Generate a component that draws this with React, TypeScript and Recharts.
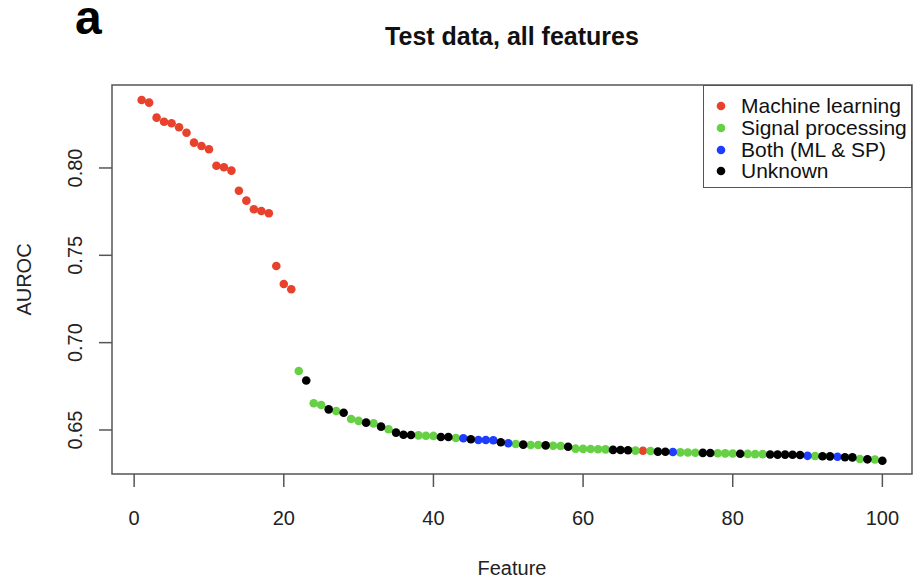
import React from "react";
import {
  Legend,
  ReferenceArea,
  Scatter,
  ScatterChart,
  XAxis,
  YAxis,
  Label,
} from "recharts";

// AUROC of each feature, sorted (feature 1..100)
const AUROC = [
  0.8389, 0.8374, 0.8288, 0.8265, 0.8256, 0.8233, 0.8202, 0.8145, 0.8126, 0.8107,
  0.8013, 0.8004, 0.7985, 0.787, 0.7813, 0.7764, 0.7754, 0.7741, 0.7439, 0.7336,
  0.7306, 0.6838, 0.6783, 0.6653, 0.6643, 0.6618, 0.6609, 0.6599, 0.6563, 0.6552,
  0.6542, 0.6538, 0.6519, 0.6504, 0.6485, 0.6473, 0.6471, 0.6469, 0.6467, 0.6466,
  0.646, 0.646, 0.6454, 0.6453, 0.6447, 0.6443, 0.6443, 0.6441, 0.643, 0.6424,
  0.642, 0.6416, 0.6414, 0.6414, 0.6412, 0.641, 0.6408, 0.6404, 0.6393, 0.6392,
  0.6391, 0.639, 0.6389, 0.6386, 0.6385, 0.6384, 0.6382, 0.6381, 0.638, 0.6376,
  0.6375, 0.6374, 0.6372, 0.6371, 0.637, 0.6369, 0.6368, 0.6367, 0.6366, 0.6365,
  0.6364, 0.6363, 0.6362, 0.6362, 0.636, 0.6359, 0.6359, 0.6358, 0.6357, 0.6352,
  0.6351, 0.635, 0.6349, 0.6347, 0.6344, 0.6343, 0.6334, 0.6332, 0.6331, 0.6324,
];

// M = machine learning, S = signal processing, B = both, U = unknown
const ORIGIN = [
  "M", "M", "M", "M", "M", "M", "M", "M", "M", "M",
  "M", "M", "M", "M", "M", "M", "M", "M", "M", "M",
  "M", "S", "U", "S", "S", "U", "S", "U", "S", "S",
  "U", "S", "U", "S", "U", "U", "U", "S", "S", "S",
  "U", "U", "S", "B", "U", "B", "B", "B", "U", "B",
  "S", "U", "S", "S", "U", "S", "S", "U", "S", "S",
  "S", "S", "S", "U", "U", "U", "S", "M", "S", "U",
  "U", "B", "S", "S", "S", "U", "U", "S", "S", "S",
  "U", "S", "S", "S", "U", "U", "U", "U", "U", "B",
  "S", "U", "U", "B", "U", "U", "S", "U", "S", "U",
];

const GROUPS = [
  { key: "M", name: "Machine learning", color: "#e8412c" },
  { key: "S", name: "Signal processing", color: "#66d144" },
  { key: "B", name: "Both (ML & SP)", color: "#1f3dff" },
  { key: "U", name: "Unknown", color: "#000000" },
];

const X_TICKS = [0, 20, 40, 60, 80, 100];
const Y_TICKS = [0.65, 0.7, 0.75, 0.8];
const X_DOMAIN = [-2.96, 103.96];
const Y_DOMAIN = [0.6248, 0.8475];

const FONT = '"Liberation Sans", Arial, Helvetica, sans-serif';
const AXIS_GREY = "#555";

const points = AUROC.map((v, i) => ({ x: i + 1, y: v, group: ORIGIN[i] }));

const Dot = (props: any) => (
  <circle cx={props.cx} cy={props.cy} r={4.3} fill={props.fill} />
);

const XTick = ({ x, y, payload }: any) => (
  <text
    x={x}
    y={y + 29}
    textAnchor="middle"
    dominantBaseline="central"
    fontSize={20}
    fontFamily={FONT}
    fill="#222"
  >
    {payload.value}
  </text>
);

const YTick = ({ x, y, payload }: any) => {
  const cx = x - 22;
  return (
    <text
      x={cx}
      y={y}
      transform={`rotate(-90, ${cx}, ${y})`}
      textAnchor="middle"
      dominantBaseline="central"
      fontSize={20}
      fontFamily={FONT}
      fill="#222"
    >
      {Number(payload.value).toFixed(2)}
    </text>
  );
};

const LegendBox = () => (
  <div
    style={{
      width: 209,
      height: 103,
      boxSizing: "border-box",
      border: `1.5px solid ${AXIS_GREY}`,
      background: "#fff",
      paddingTop: 9,
      fontFamily: FONT,
      fontSize: 21,
      color: "#111",
    }}
  >
    {GROUPS.map((g) => (
      <div
        key={g.key}
        style={{ display: "flex", alignItems: "center", height: 21.7, whiteSpace: "nowrap" }}
      >
        <svg width={37} height={21} style={{ flex: "none" }}>
          <circle cx={17} cy={11} r={4.3} fill={g.color} />
        </svg>
        <span style={{ lineHeight: "21px" }}>{g.name}</span>
      </div>
    ))}
  </div>
);

export default function App() {
  return (
    <div
      style={{
        position: "absolute",
        left: 0,
        top: 0,
        width: 914,
        height: 582,
        background: "#fff",
        fontFamily: FONT,
      }}
    >
      <div
        style={{
          position: "absolute",
          left: 75,
          top: 0,
          fontSize: 48,
          lineHeight: "36px",
          fontWeight: 700,
          color: "#000",
        }}
      >
        a
      </div>
      <div
        style={{
          position: "absolute",
          left: 112,
          width: 800,
          top: 21,
          textAlign: "center",
          fontSize: 25,
          lineHeight: "30px",
          fontWeight: 700,
          color: "#111",
        }}
      >
        Test data, all features
      </div>
      <ScatterChart
        width={914}
        height={582}
        margin={{ top: 85, right: 2, bottom: 0, left: 0 }}
      >
        <XAxis
          type="number"
          dataKey="x"
          domain={X_DOMAIN}
          ticks={X_TICKS}
          allowDataOverflow
          axisLine={false}
          tickLine={{ stroke: AXIS_GREY, strokeWidth: 1.5 }}
          tickSize={13}
          tick={<XTick />}
          height={108}
        >
          <Label
            content={() => (
              <text
                x={512}
                y={568}
                textAnchor="middle"
                dominantBaseline="central"
                fontSize={20}
                fontFamily={FONT}
                fill="#222"
              >
                Feature
              </text>
            )}
          />
        </XAxis>
        <YAxis
          type="number"
          dataKey="y"
          domain={Y_DOMAIN}
          ticks={Y_TICKS}
          allowDataOverflow
          axisLine={false}
          tickLine={{ stroke: AXIS_GREY, strokeWidth: 1.5 }}
          tickSize={13}
          tick={<YTick />}
          width={112}
        >
          <Label
            content={() => (
              <text
                x={24}
                y={279.5}
                transform="rotate(-90, 24, 279.5)"
                textAnchor="middle"
                dominantBaseline="central"
                fontSize={20}
                fontFamily={FONT}
                fill="#222"
              >
                AUROC
              </text>
            )}
          />
        </YAxis>
        <ReferenceArea
          x1={X_DOMAIN[0]}
          x2={X_DOMAIN[1]}
          y1={Y_DOMAIN[0]}
          y2={Y_DOMAIN[1]}
          fill="none"
          stroke={AXIS_GREY}
          strokeWidth={1.5}
          ifOverflow="visible"
        />
        {GROUPS.map((g) => (
          <Scatter
            key={g.key}
            name={g.name}
            data={points.filter((p) => p.group === g.key)}
            fill={g.color}
            shape={<Dot />}
            isAnimationActive={false}
          />
        ))}
        <Legend
          content={<LegendBox />}
          layout="horizontal"
          verticalAlign="middle"
          align="center"
          wrapperStyle={{ left: 703, top: 85, width: 209 }}
        />
      </ScatterChart>
    </div>
  );
}
